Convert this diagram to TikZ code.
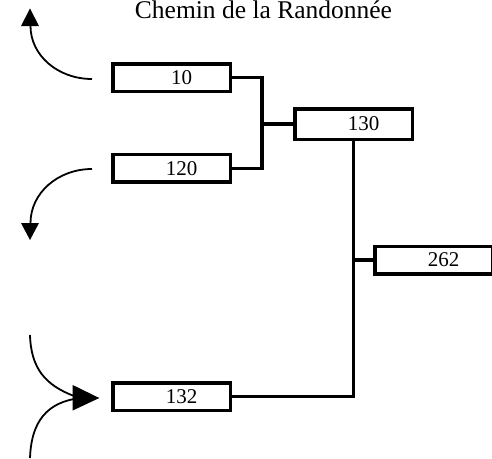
\documentclass[tikz,border=0pt]{standalone}
\usepackage{fontspec}
\setmainfont{Liberation Serif}
\begin{document}
\begin{tikzpicture}[x=1pt,y=-1pt,
  box/.style={draw=black,line width=3.5pt,fill=white,minimum width=117.5pt,minimum height=27.5pt,inner sep=0pt,font=\fontsize{21}{24}\selectfont,execute at begin node=\hspace*{20pt}},
  conn/.style={line width=3.5pt,line join=miter},
  thin/.style={line width=1.8pt},
  tipfill/.style={fill=black}]
\useasboundingbox (0,0) rectangle (492,458);
\clip (0,0) rectangle (492,458);
\node[anchor=base,font=\fontsize{25.5}{30}\selectfont] (title) at (263.5,18.8) {Chemin de la Randonnée};
\node[box] (n10) at (171.5,77.5) {10};
\node[box] (n120) at (171.5,168.3) {120};
\node[box] (n132) at (171.5,396.5) {132};
\node[box,minimum height=30.5pt] (n130) at (353.5,124) {130};
\node[box] (n262) at (433.5,260) {262};
\coordinate (jx) at (262,124);
\coordinate (jy) at (353.5,260);
\draw[conn] (n10.east) -| (jx) |- (n120.east);
\draw[conn] (jx) -- (n130.west);
\draw[conn] (n130.south) |- (n132.east);
\draw[conn] (jy) -- (n262.west);
% free curved arrows
\coordinate (a0) at (92,79);
\coordinate (a1) at (30.5,26);
\draw[thin] (a0) .. controls (58,79) and (30.5,55.5) .. (a1);
\fill[tipfill] (21,26) -- (39,26) -- (30,8.5) -- cycle;
\coordinate (b0) at (92,169);
\coordinate (b1) at (30.5,223);
\draw[thin] (b0) .. controls (58,169) and (30.5,193) .. (b1);
\fill[tipfill] (21,223) -- (39,223) -- (30,240) -- cycle;
\coordinate (c0) at (30,335);
\coordinate (c1) at (74,396);
\draw[thin] (c0) .. controls (31,368) and (45,385) .. (c1);
\coordinate (d0) at (30,458);
\coordinate (d1) at (74,399);
\draw[thin] (d0) .. controls (31,428) and (42,405) .. (d1);
\fill[tipfill] (72.7,385) -- (72.7,410.5) -- (99.3,398) -- cycle;
\end{tikzpicture}
\end{document}
